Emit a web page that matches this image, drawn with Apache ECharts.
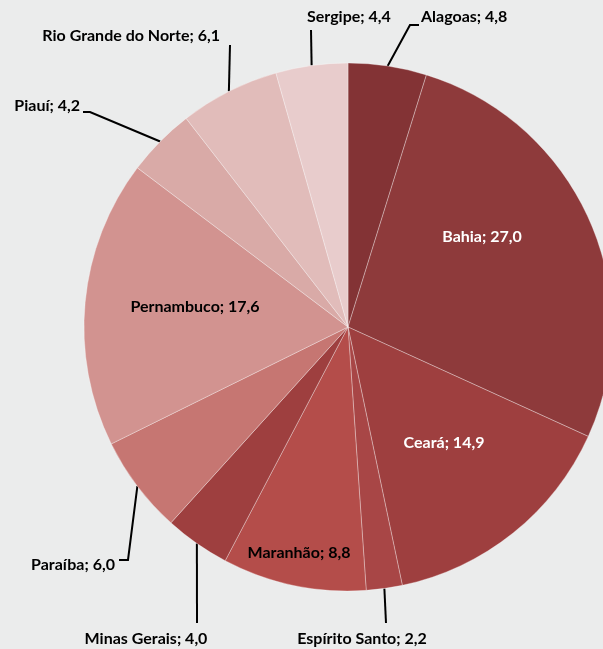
<!DOCTYPE html>
<html style="height:100%">
<head>
    <meta charset="utf-8">
    <title>Estados</title>
<script src="https://cdn.jsdelivr.net/npm/echarts@6/dist/echarts.min.js"></script>
</head>
<body style="height:100%;width:100%;margin:0;background:#ebecec;">
    <div id="main" style="width:603px;height:649px;margin:0"></div>
    <script type="text/javascript">
        // dados
        var states = ['Alagoas', 'Bahia', 'Ceará', 'Espírito Santo', 'Maranhão', 'Minas Gerais',
            'Paraíba', 'Pernambuco', 'Piauí', 'Rio Grande do Norte', 'Sergipe'];
        var shares = [4.8, 27.0, 14.9, 2.2, 8.8, 4.0, 6.0, 17.6, 4.2, 6.1, 4.4];

        var sliceColors = ['#833335', '#8e3a3b', '#9e3f3f', '#a84646', '#b44d4a', '#9e3f3f',
            '#c67672', '#d29390', '#d9aaa7', '#e1bcba', '#e8cccc'];

        // where each label goes (inside labels: pos only; outside: leader line too)
        var labelSpots = {
            'Bahia': { x: 482, y: 237, color: '#fff' },
            'Ceará': { x: 444, y: 443, color: '#fff' },
            'Maranhão': { x: 299, y: 553, color: '#000' },
            'Pernambuco': { x: 195, y: 307, color: '#000' },
            'Alagoas': { x: 421, y: 17, align: 'left', line: [[410, 25], [419, 25]] },
            'Sergipe': { x: 307, y: 17, align: 'left', line: [[311, 30], [311, 30]] },
            'Rio Grande do Norte': { x: 220, y: 36, align: 'right', line: [[230, 45], [230, 45]] },
            'Piauí': { x: 80, y: 106, align: 'right', line: [[90, 112], [83, 112]] },
            'Paraíba': { x: 115, y: 565, align: 'right', line: [[128, 560], [119, 560]] },
            'Minas Gerais': { x: 146, y: 639, align: 'center', line: [[197, 623], [197, 623]] },
            'Espírito Santo': { x: 362, y: 639, align: 'center', line: [[386, 623], [386, 623]] }
        };

        var fmt = function (v) { return v.toFixed(1).replace('.', ','); };

        var myChart = echarts.init(document.getElementById('main'));
        myChart.setOption({
            backgroundColor: '#ebecec',
            animation: false,
            series: [{
                type: 'pie',
                center: [348, 327],
                radius: 264,
                startAngle: 90,
                clockwise: true,
                avoidLabelOverlap: false,
                itemStyle: {
                    borderColor: 'rgba(255,255,255,0.45)',
                    borderWidth: 0.7
                },
                label: {
                    show: true,
                    position: 'outside',
                    fontFamily: 'Lato',
                    fontWeight: 'bold',
                    fontSize: 16,
                    color: '#000',
                    formatter: function (p) { return p.name + '; ' + fmt(p.value); }
                },
                labelLine: {
                    show: true,
                    lineStyle: { color: '#000', width: 2 }
                },
                labelLayout: function (params) {
                    var s = labelSpots[states[params.dataIndex]];
                    var out = { x: s.x, y: s.y, align: s.align || 'center', verticalAlign: 'middle' };
                    if (s.line && params.labelLinePoints) {
                        out.labelLinePoints = [params.labelLinePoints[0], s.line[0], s.line[1]];
                    }
                    return out;
                },
                data: states.map(function (name, i) {
                    var spot = labelSpots[name];
                    var item = {
                        name: name,
                        value: shares[i],
                        itemStyle: { color: sliceColors[i] }
                    };
                    if (!spot.line) {
                        item.label = { position: 'inside', color: spot.color };
                        item.labelLine = { show: false };
                    }
                    return item;
                })
            }]
        });
    </script>
</body>
</html>
